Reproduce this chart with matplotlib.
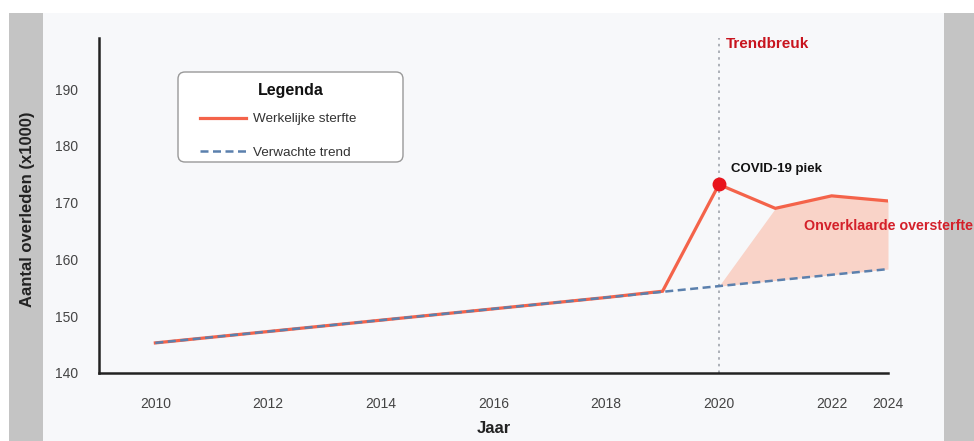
import matplotlib
matplotlib.use("Agg")
import matplotlib.pyplot as plt
from matplotlib.patches import Rectangle, FancyBboxPatch
from matplotlib.lines import Line2D

plt.rcParams["font.family"] = ["Liberation Sans", "DejaVu Sans"]

# ── data ──────────────────────────────────────────────────────────────────────
years = [2010, 2011, 2012, 2013, 2014, 2015, 2016, 2017, 2018, 2019, 2020, 2021, 2022, 2023]
actual = [145.3, 146.3, 147.3, 148.3, 149.3, 150.3, 151.3, 152.3, 153.3, 154.4,
          173.2, 169.0, 171.2, 170.3]
trend = [145.3, 146.3, 147.3, 148.3, 149.3, 150.3, 151.3, 152.3, 153.3, 154.3,
         155.3, 156.3, 157.3, 158.3]
excess_years = [2020, 2021, 2022, 2023]
excess_top = [155.3, 169.0, 171.2, 170.3]
excess_base = [155.3, 156.3, 157.3, 158.3]
peak_year, peak_val = 2020, 173.2
xtick_pos = [2010, 2012, 2014, 2016, 2018, 2020, 2022, 2023]
xtick_lbl = ["2010", "2012", "2014", "2016", "2018", "2020", "2022", "2024"]
ytick_vals = [140, 150, 160, 170, 180, 190]

# ── palette ───────────────────────────────────────────────────────────────────
BG = "#F7F8FA"
SIDE = "#C4C4C4"
RED = "#F4634A"
BLUE = "#5B80AD"
FILL = "#F9D3C8"
DARKRED = "#C8141E"
TXT = "#333333"

W, H = 974, 441
fig = plt.figure(figsize=(W / 100, H / 100), dpi=100, facecolor="white")

# background strips
fig.patches.append(Rectangle((9 / W, 0), 34 / W, (H - 13) / H, transform=fig.transFigure,
                             facecolor=SIDE, edgecolor="none", zorder=-10))
fig.patches.append(Rectangle((43 / W, 0), 901 / W, (H - 13) / H, transform=fig.transFigure,
                             facecolor=BG, edgecolor="none", zorder=-10))
fig.patches.append(Rectangle((944 / W, 0), 30 / W, (H - 13) / H, transform=fig.transFigure,
                             facecolor=SIDE, edgecolor="none", zorder=-10))

ax = fig.add_axes([99 / W, (H - 373) / H, 789 / W, 335 / H])
ax.patch.set_alpha(0)

ax.fill_between(excess_years, excess_base, excess_top, color=FILL, linewidth=0, zorder=1)
ax.axvline(2020, color="#A0A4AC", linestyle=(0, (1.5, 2.5)), linewidth=1.2, zorder=2)
ax.plot(years, actual, color=RED, linewidth=2.3, solid_joinstyle="miter", zorder=3)
ax.plot(years, trend, color=BLUE, linewidth=1.8, dashes=(3.2, 1.8), zorder=4)
ax.plot([peak_year], [peak_val], "o", color="#E8141C", markersize=9, zorder=5)

ax.set_xlim(2009, 2023)
ax.set_ylim(140, 199)
ax.set_xticks(xtick_pos, xtick_lbl)
ax.set_yticks(ytick_vals)
ax.tick_params(length=0, labelsize=10, colors="#444444")
ax.tick_params(axis="y", pad=15)
ax.tick_params(axis="x", pad=17)

for s in ["top", "right"]:
    ax.spines[s].set_visible(False)
for s in ["left", "bottom"]:
    ax.spines[s].set_color("#222222")
    ax.spines[s].set_linewidth(1.8)

ax.set_ylabel("Aantal overleden (x1000)", fontsize=12, fontweight="bold", color="#222222")
ax.yaxis.set_label_coords(-0.0805, 0.49)
ax.set_xlabel("Jaar", fontsize=12, fontweight="bold", color="#222222")
ax.xaxis.set_label_coords(0.5, -0.143)

# annotations
ax.text(2020.12, 197.9, "Trendbreuk", color=DARKRED, fontsize=11, fontweight="bold",
        va="center", ha="left")
ax.text(2020.21, 175.9, "COVID-19 piek", color="#111111", fontsize=9.5, fontweight="bold",
        va="center", ha="left")
ax.text(2021.51, 165.9, "Onverklaarde oversterfte", color="#D4202A", fontsize=10.3,
        fontweight="bold", va="center", ha="left", clip_on=False)

# legend: rounded box + title drawn by hand, entries from a frameless legend
ax.add_patch(FancyBboxPatch((1.78, 2.79), 2.25, 0.90,
                            boxstyle="round,pad=0,rounding_size=0.07",
                            transform=fig.dpi_scale_trans, facecolor="white",
                            edgecolor="#999999", linewidth=1.0, zorder=6, clip_on=False))
ax.text(2.905, 3.51, "Legenda", transform=fig.dpi_scale_trans, ha="center", va="center",
        fontsize=11.5, fontweight="bold", color="#111111", zorder=7)
handles = [Line2D([], [], color=RED, linewidth=2.3),
           Line2D([], [], color=BLUE, linewidth=1.8, dashes=(3.2, 1.8))]
leg = ax.legend(handles, ["Werkelijke sterfte", "Verwachte trend"],
                loc="upper left", bbox_to_anchor=(101 / 789, (373 - 113) / 335),
                borderaxespad=0, borderpad=0, fontsize=9.7, frameon=False,
                handlelength=3.4, handletextpad=0.55, labelspacing=1.55)
leg.set_zorder(8)
for t in leg.get_texts():
    t.set_color(TXT)

fig.savefig("out.png", dpi=100)
